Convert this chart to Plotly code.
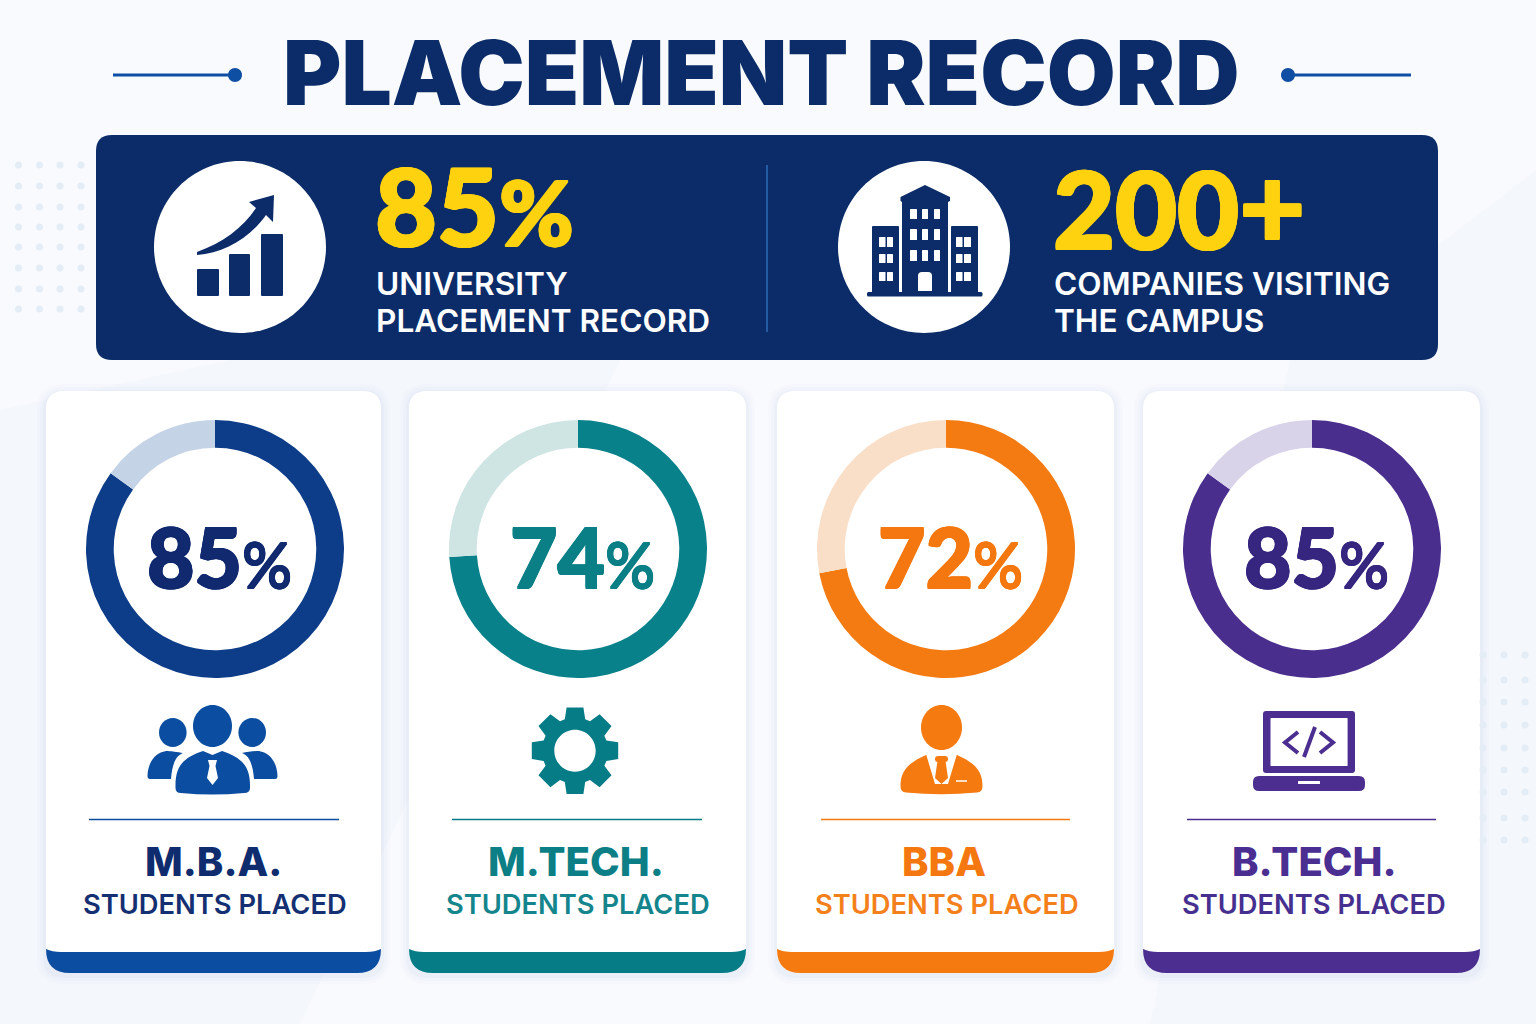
import math
import plotly.graph_objects as go

W, H = 1536, 1024

# data
title_text = "PLACEMENT RECORD"
stat_numbers = ["85", "200"]
stat_suffix = ["%", "+"]
stat_lines = [["UNIVERSITY", "PLACEMENT RECORD"], ["COMPANIES VISITING", "THE CAMPUS"]]
programmes = ["M.B.A.", "M.TECH.", "BBA", "B.TECH."]
placed_pct = [85, 74, 72, 85]
card_subtitle = "STUDENTS PLACED"

ring_colors = ["#0D3C88", "#08818A", "#F47B12", "#4A2E8E"]
rest_colors = ["#C5D3E6", "#CFE5E3", "#FADFC8", "#D9D3EA"]
num_colors = ["#10296F", "#0B7F86", "#F4780F", "#36267F"]
band_colors = ["#0B4DA0", "#067C87", "#F57A10", "#4B2E8F"]
name_colors = ["#0F2D6E", "#0C7F86", "#F4780F", "#4B2E91"]
sub_colors = ["#142F72", "#14858C", "#F4801C", "#46308F"]

NAVY = "#0B2C68"
YELLOW = "#FFD20F"
FONT = "Inter"
NUM_FONT = "Lato"

card_x = [(46, 381), (409, 746), (777, 1114), (1143, 1480)]
ring_cx = [215, 578, 946, 1312]
ring_cy = 549
ring_r = 129
rule_x = [(89, 339), (452, 702), (821, 1070), (1187, 1436)]
name_cx = [213, 576, 944, 1314]
sub_cx = [215, 578, 947, 1314]

shapes = []
annotations = []


def add_path(path, fill, line=None, width=0, opacity=1, evenodd=False):
    shapes.append(dict(type="path", path=path, fillcolor=fill, opacity=opacity, layer="below",
                       fillrule="evenodd" if evenodd else "nonzero",
                       line=dict(color=line or "rgba(0,0,0,0)", width=width)))


def rrect(x0, y0, x1, y1, r, rb=None):
    rb = r if rb is None else rb
    return (f"M {x0+r} {y0} L {x1-r} {y0} Q {x1} {y0} {x1} {y0+r} L {x1} {y1-rb} Q {x1} {y1} {x1-rb} {y1} "
            f"L {x0+rb} {y1} Q {x0} {y1} {x0} {y1-rb} L {x0} {y0+r} Q {x0} {y0} {x0+r} {y0} Z")


def ellipse(cx, cy, rx, ry):
    k = 0.5523
    return (f"M {cx-rx} {cy} C {cx-rx} {cy-k*ry} {cx-k*rx} {cy-ry} {cx} {cy-ry} "
            f"C {cx+k*rx} {cy-ry} {cx+rx} {cy-k*ry} {cx+rx} {cy} "
            f"C {cx+rx} {cy+k*ry} {cx+k*rx} {cy+ry} {cx} {cy+ry} "
            f"C {cx-k*rx} {cy+ry} {cx-rx} {cy+k*ry} {cx-rx} {cy} Z")


def add_text(x, y, text, size, color, anchor="left", weight=700, family=FONT, fatten=0):
    font = dict(family=family, size=size, color=color, weight=weight)
    if fatten:
        # lato has no black weight here, so thicken the digits with a tight shadow
        font["shadow"] = ", ".join(f"{dx}px {dy}px 0 {color}" for dx, dy in
                                   [(fatten, 0), (-fatten, 0), (0, fatten), (0, -fatten),
                                    (fatten, fatten), (-fatten, -fatten), (fatten, -fatten), (-fatten, fatten)])
    annotations.append(dict(x=x, y=y, xref="x", yref="y", text=text, showarrow=False, xanchor=anchor,
                            yanchor="middle", font=font))


# background
add_path("M 1290 360 L 1536 170 L 1536 1024 L 1150 1024 Z", "#F4F7FC")
add_path("M 0 410 L 230 360 L 620 360 L 300 1024 L 0 1024 Z", "#F4F7FC")

# title decoration
for x0, x1, dot in [(113, 236, 235), (1288, 1411, 1288)]:
    add_path(f"M {x0} 75 L {x1} 75", "rgba(0,0,0,0)", "#0F4FA3", 3)
    add_path(ellipse(dot, 75, 7, 7), "#0F4FA3")
add_text(761, 72, title_text, 89, "#0B2C68", "center", 900)

# banner
add_path(rrect(96, 135, 1438, 360, 16), NAVY)
add_path("M 767 165 L 767 332", "rgba(0,0,0,0)", "#2E6DB8", 1.5)
add_path(ellipse(240, 247, 86, 86), "#FFFFFF")
add_path(ellipse(924, 247, 86, 86), "#FFFFFF")

# rising bars icon
for x0, x1, y0 in [(197, 219, 269), (229, 250, 254), (261, 283, 234)]:
    add_path(rrect(x0, y0, x1, 296, 1), NAVY)
add_path("M 197 252 C 222 243 243 228 256 208 L 249 202 L 274 195 L 273 222 L 266 215 "
         "C 250 238 224 253 197 255 Z", NAVY)

# building icon
add_path("M 925 185 L 950 197 L 950 201 L 948 202 L 948 296 L 902 296 L 902 202 L 900.5 201 L 900.5 197 Z", NAVY)
add_path(rrect(872, 226, 899, 296, 1), NAVY)
add_path(rrect(951, 226, 978, 296, 1), NAVY)
add_path(rrect(867, 292, 982.5, 296.5, 1.5), NAVY)
for y0, y1 in [(209, 219), (229, 240), (250, 261)]:
    for x0, x1 in [(910, 917), (922, 928), (934, 940)]:
        add_path(rrect(x0, y0, x1, y1, 0.5), "#FFFFFF")
for y0, y1 in [(237, 247), (254, 263), (272, 281)]:
    for x0, x1 in [(879, 885.5), (887, 893), (956, 962.5), (964, 971)]:
        add_path(rrect(x0, y0, x1, y1, 0.5), "#FFFFFF")
add_path("M 918 291 L 918 276 Q 918 272 922 272 L 928 272 Q 932 272 932 276 L 932 291 Z", "#FFFFFF")

# cards
for i, (x0, x1) in enumerate(card_x):
    for grow, op in [(9, 0.018), (6, 0.025), (3, 0.035)]:
        add_path(rrect(x0 - grow, 391 - grow + 2, x1 + grow, 973 + grow + 2, 18 + grow), "#5B7FB5", opacity=op)
    add_path(rrect(x0, 391, x1, 973, 18, 24), "#FFFFFF")
    add_path(f"M {x0} 949 Q {x0+6} 952 {x0+15} 952 L {x1-15} 952 Q {x1-6} 952 {x1} 949 L {x1} 949 "
             f"Q {x1} 973 {x1-24} 973 L {x0+24} 973 Q {x0} 973 {x0} 949 Z", band_colors[i])
    rx0, rx1 = rule_x[i]
    add_path(f"M {rx0} 819.5 L {rx1} 819.5", "rgba(0,0,0,0)", band_colors[i], 1.5)
    add_text(ring_cx[i] + 4, 556,
             f"{placed_pct[i]}<span style='font-size:62px;font-weight:500'>%</span>",
             82, num_colors[i], "center", 900, NUM_FONT, fatten=0.7)
    add_text(name_cx[i], 861, programmes[i], 40, name_colors[i], "center", 800)
    add_text(sub_cx[i], 904, card_subtitle, 27.3, sub_colors[i], "center", 600)

# people icon
BLUE = band_colors[0]
add_path(ellipse(212.5, 726, 19.5, 21), BLUE)
add_path(ellipse(172.8, 732.5, 13.8, 14.5), BLUE)
add_path(ellipse(252.2, 732.5, 13.8, 14.5), BLUE)
add_path("M 175.5 785 C 175.5 765 185 757 203 751 L 212.5 755 L 222 751 C 240 757 250 765 250 785 L 250 788 "
         "Q 250 793 244 793 Q 212 796 181 793 Q 175.5 793 175.5 788 Z "
         "M 208 760 L 217 760 L 215.5 766 L 218 778 L 212.5 785 L 207 778 L 209.5 766 Z", BLUE, evenodd=True)
add_path("M 147.5 776 C 148 762 155 753 166 751 C 170 751 178 752 183 753 C 175 756 172 766 171 779 "
         "L 150 779 Q 147.5 779 147.5 776 Z", BLUE)
add_path("M 277.5 776 C 277 762 270 753 259 751 C 255 751 247 752 242 753 C 250 756 253 766 254 779 "
         "L 275 779 Q 277.5 779 277.5 776 Z", BLUE)

# gear icon
pts = []
for k in range(8):
    a = k * 45
    for rad, off in [(33, -18), (44, -11), (44, 11), (33, 18)]:
        t = math.radians(a + off)
        pts.append((575 + rad * math.sin(t), 750.7 - rad * math.cos(t)))
gear = "M " + " L ".join(f"{x:.1f} {y:.1f}" for x, y in pts) + " Z " + ellipse(575, 750.7, 20.7, 21)
add_path(gear, band_colors[1], evenodd=True)

# suited person icon
ORANGE = band_colors[2]
add_path(ellipse(941.5, 727.5, 20.5, 22.5), ORANGE)
add_path("M 900.5 786 C 900.5 771 908 763 926 755 L 957 755 C 975 763 982.5 771 982.5 786 "
         "Q 982.5 792 977 792.5 Q 941 796 906 792.5 Q 900.5 792 900.5 786 Z", ORANGE)
add_path("M 926 754 L 957 754 L 948 784 L 935 784 Z", "#FFFFFF")
add_path(rrect(935, 756, 948, 762, 3), ORANGE)
add_path("M 937.5 761 L 945.5 761 L 948 778 L 941.5 784 L 935 778 Z", ORANGE)
add_path("M 956 781 L 967 781", "rgba(0,0,0,0)", "#FFFFFF", 1.5)

# laptop icon
PURPLE = band_colors[3]
add_path(rrect(1263, 711, 1355, 773, 3) + " " + rrect(1270.5, 718, 1347.6, 766, 0.5), PURPLE, evenodd=True)
add_path(rrect(1253, 776, 1365, 791, 6) + " " + rrect(1298, 781, 1320, 784, 0.5), PURPLE, evenodd=True)
for p in ["M 1298 732 L 1285 742.5 L 1298 753", "M 1320 732 L 1333 742.5 L 1320 753", "M 1315 727 L 1304 757"]:
    add_path(p, "rgba(0,0,0,0)", PURPLE, 4)

# banner text
for x, num, suf, lines, suf_size in zip([373, 1051], stat_numbers, stat_suffix, stat_lines, [90, 114]):
    add_text(x, 204, f"{num}<span style='font-size:{suf_size}px'>{suf}</span>", 107, YELLOW, "left", 900,
             NUM_FONT, fatten=1)
    add_text(x + 1, 283, lines[0], 31.6, "#FFFFFF", "left", 600)
    add_text(x + 1, 320, lines[1], 31.6, "#FFFFFF", "left", 600)

fig = go.Figure()

# faint dot grids
left_rows = [165, 186, 207, 227, 247, 268, 289, 309]
left_cols = [18.5, 39.5, 60, 81]
right_rows = [655, 680, 702, 725, 748, 770, 792, 818, 840]
right_cols = [1483, 1504, 1525]
dots_x = [x for y in left_rows for x in left_cols] + [x for y in right_rows for x in right_cols]
dots_y = [y for y in left_rows for x in left_cols] + [y for y in right_rows for x in right_cols]
fig.add_trace(go.Scatter(x=dots_x, y=dots_y, mode="markers", hoverinfo="skip", showlegend=False,
                         marker=dict(size=7, color="#E4EDF6")))

# placement rings
for i, pct in enumerate(placed_pct):
    fig.add_trace(go.Pie(
        values=[pct, 100 - pct],
        labels=["Placed", "Other"],
        hole=0.785,
        sort=False,
        direction="clockwise",
        rotation=0,
        textinfo="none",
        showlegend=False,
        marker=dict(colors=[ring_colors[i], rest_colors[i]], line=dict(width=0)),
        domain=dict(x=[(ring_cx[i] - ring_r) / W, (ring_cx[i] + ring_r) / W],
                    y=[1 - (ring_cy + ring_r) / H, 1 - (ring_cy - ring_r) / H]),
    ))

fig.update_layout(
    width=W, height=H,
    margin=dict(l=0, r=0, t=0, b=0),
    paper_bgcolor="#F8FAFD",
    plot_bgcolor="rgba(0,0,0,0)",
    xaxis=dict(range=[0, W], visible=False, domain=[0, 1], fixedrange=True),
    yaxis=dict(range=[H, 0], visible=False, domain=[0, 1], fixedrange=True),
    shapes=shapes,
    annotations=annotations,
    showlegend=False,
)
fig.write_html("out.html", post_script="document.body.style.margin='0';", config={"displayModeBar": False})
